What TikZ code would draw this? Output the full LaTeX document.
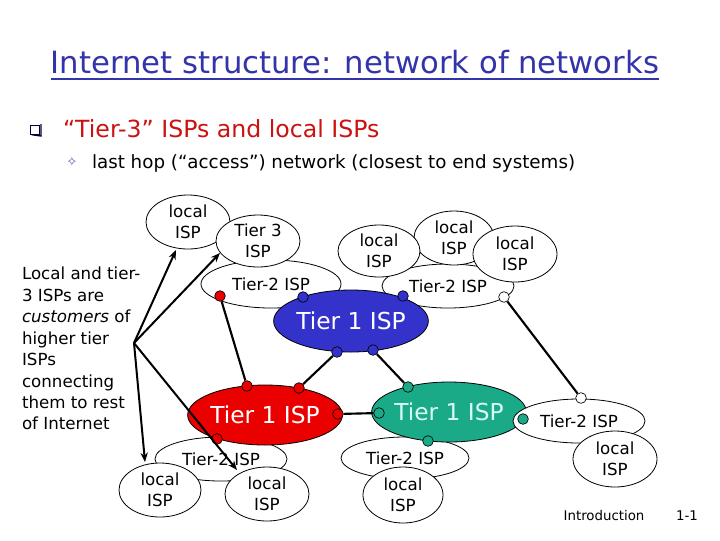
\documentclass[tikz,border=0pt]{standalone}
\usepackage{fontspec}
\setmainfont{DejaVu Sans}
\usetikzlibrary{shapes.geometric,arrows.meta}
\definecolor{titleblue}{RGB}{51,51,170}
\definecolor{bulletred}{RGB}{204,17,17}
\definecolor{t1blue}{RGB}{51,51,204}
\definecolor{t1red}{RGB}{235,0,0}
\definecolor{t1green}{RGB}{26,170,136}
\definecolor{starblue}{RGB}{90,90,170}
\begin{document}
\begin{tikzpicture}[x=0.75pt,y=-0.75pt,
  isp/.style={ellipse, draw, fill=white, line width=0.6pt, inner sep=0pt, align=center, font=\fontsize{12.5}{16}\selectfont},
  tierone/.style={ellipse, draw, line width=0.6pt, inner sep=0pt, text=white, font=\fontsize{17.5}{20}\selectfont},
  dot/.style={circle, draw, line width=0.5pt, inner sep=0pt, minimum size=8pt},
  link/.style={line width=1.6pt},
  arr/.style={line width=1.5pt, -{Stealth[length=7pt,width=5.5pt]}},
  txt/.style={inner sep=0pt, outer sep=0pt},
]
\useasboundingbox (0,0) rectangle (720,540);
\fill[white] (0,0) rectangle (720,540);

% title
\node[txt, font=\fontsize{23}{28}\selectfont, text=titleblue] (title) at (355,62) {Internet structure: network of networks};
\draw[titleblue, line width=1.6pt] ([yshift=-4pt]title.base west) -- ([yshift=-4pt]title.base east);

% bullets
\node[txt, draw=black!80!blue, line width=0.6pt, minimum size=7pt] (sq) at (35,130) {};
\draw[black!80!blue, line width=1pt] ([xshift=1pt]sq.south west) -- ([xshift=1pt,yshift=-1pt]sq.south east) -- ([yshift=1pt,xshift=1pt]sq.north east);
\node[txt, anchor=base west, font=\fontsize{17.7}{20}\selectfont, text=bulletred] (b1) at (63,137) {“Tier-3” ISPs and local ISPs};
\node[txt, font=\fontsize{10}{11}\selectfont, text=starblue] (star) at (72,162) {✧};
\node[txt, anchor=base west, font=\fontsize{13.7}{16}\selectfont] (b2) at (92,168) {last hop (“access”) network (closest to end systems)};

% left text
\node[txt, anchor=north west, align=left, font=\fontsize{12.5}{16.1}\selectfont] (lt) at (22,267)
  {Local and tier-\\3 ISPs are\\\textit{customers} of\\higher tier\\ISPs\\connecting\\them to rest\\of Internet};

% top-left cluster
\node[isp, minimum width=105pt, minimum height=36pt] (T2a) at (271,284) {Tier-2 ISP};
\node[isp, minimum width=63pt, minimum height=40.5pt] (L1) at (188,222) {local\\ISP};
\node[isp, minimum width=63pt, minimum height=39pt] (T3) at (258,241) {Tier 3\\ISP};

% top-right cluster
\node[isp, minimum width=99pt, minimum height=33pt] (T2b) at (448,286) {Tier-2 ISP};
\node[isp, minimum width=60pt, minimum height=40.5pt] (L3) at (454,238) {local\\ISP};
\node[isp, minimum width=61.5pt, minimum height=39pt] (L2) at (379,251) {local\\ISP};
\node[isp, minimum width=63pt, minimum height=42pt] (L4) at (515,254) {local\\ISP};

% bottom tier-2
\node[isp, minimum width=99pt, minimum height=33pt] (T2e) at (221,459) {Tier-2 ISP};
\node[isp, minimum width=96pt, minimum height=31.5pt] (T2d) at (405,458) {Tier-2 ISP};

% tier 1
\node[tierone, fill=t1blue, minimum width=108pt, minimum height=46.5pt] (B1) at (351,321) {Tier 1 ISP};
\node[tierone, fill=t1red, minimum width=109.5pt, minimum height=45pt] (R1) at (265,415) {Tier 1 ISP};
\node[tierone, fill=t1green, text={rgb,255:red,215;green,250;blue,245}, minimum width=115.5pt, minimum height=45pt] (G1) at (449,412) {Tier 1 ISP};

% right
\node[isp, minimum width=99pt, minimum height=33pt] (T2c) at (579,421) {Tier-2 ISP};
\node[isp, minimum width=63pt, minimum height=42pt] (L5) at (615,459) {local\\ISP};

% bottom locals
\node[isp, minimum width=60pt, minimum height=42pt] (L6) at (403,495) {local\\ISP};
\node[isp, minimum width=61.5pt, minimum height=40.5pt] (L7) at (160,490) {local\\ISP};
\node[isp, minimum width=63pt, minimum height=40.5pt] (L8) at (267,494) {local\\ISP};

% dots
\node[dot, fill=t1blue] (bd1) at (303,297) {};
\node[dot, fill=t1blue] (bd2) at (403,296) {};
\node[dot, fill=t1blue] (bd3) at (337,352) {};
\node[dot, fill=t1blue] (bd4) at (373,350) {};
\node[dot, fill=t1red] (rd1) at (220,296) {};
\node[dot, fill=t1red] (rd2) at (247,386) {};
\node[dot, fill=t1red] (rd3) at (299,388) {};
\node[dot, fill=t1red] (rd4) at (338,414) {};
\node[dot, fill=t1red] (rd5) at (217,439) {};
\node[dot, fill=t1green] (gd1) at (408,387) {};
\node[dot, fill=t1green] (gd2) at (379,413) {};
\node[dot, fill=t1green] (gd3) at (428,441) {};
\node[dot, fill=t1green] (gd4) at (523,419) {};
\node[dot, fill=white] (wd1) at (504,297) {};
\node[dot, fill=white] (wd2) at (581,398) {};

% links
\draw[link] (rd1) -- (rd2);
\draw[link] (bd3) -- (rd3);
\draw[link] (bd4) -- (gd1);
\draw[link] (rd4) -- (gd2);
\draw[link] (wd1) -- (wd2);

% arrows
\coordinate (src) at (134,343);
\coordinate (a1) at (176,250);
\coordinate (a2) at (220,253);
\coordinate (a3) at (145,462);
\coordinate (a4) at (237,470);
\draw[arr] (src) -- (a1);
\draw[arr] (src) -- (a2);
\draw[arr] (src) -- (a3);
\draw[arr] (src) -- (a4);

% footer
\node[txt, font=\fontsize{10}{12}\selectfont] (intro) at (604,516) {Introduction};
\node[txt, font=\fontsize{10}{12}\selectfont] (page) at (687,516) {1-1};
\end{tikzpicture}
\end{document}
